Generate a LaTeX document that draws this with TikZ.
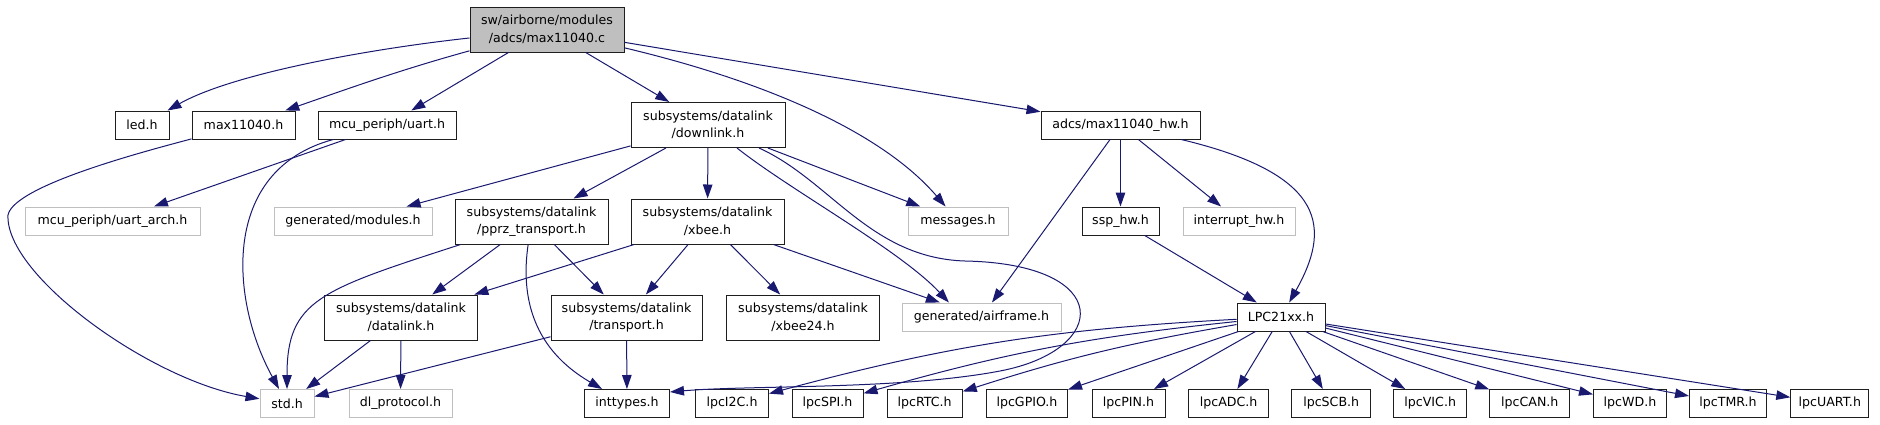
\documentclass[tikz,border=0pt]{standalone}
\usepackage{fontspec}
\setmainfont{DejaVu Sans}
\usetikzlibrary{arrows.meta}
\definecolor{dxblue}{RGB}{25,25,112}
\definecolor{dxgray}{RGB}{191,191,191}
\definecolor{dxline}{RGB}{30,30,30}

\begin{document}
\begin{tikzpicture}[x=1pt,y=-1pt,font=\fontsize{12.6}{17.5}\selectfont,
box/.style={draw=dxline,line width=1pt,fill=white,align=center,inner sep=0pt,minimum height=28pt},
two/.style={box,minimum height=45pt},
ext/.style={box,draw=dxgray},
arr/.style={-{Triangle[length=14pt,width=9.5pt]},line width=1pt,draw=dxblue}]
\fill[white](0,0)rectangle(1880,424);
\useasboundingbox(0,0)rectangle(1880,424);

\node[two,fill=dxgray,minimum width=154pt](root)at(547,29.5){sw/airborne/modules\\/adcs/max11040.c};
\node[box,minimum width=54pt](led)at(142,125){led.h};
\node[box,minimum width=103pt](max11040h)at(243.5,125){max11040.h};
\node[box,minimum width=138pt](uart)at(387,125){mcu\_periph/uart.h};
\node[two,minimum width=154pt](downlink)at(708,125){subsystems/datalink\\/downlink.h};
\node[box,minimum width=159pt](hw)at(1120.5,125){adcs/max11040\_hw.h};
\node[ext,minimum width=175pt](arch)at(112.5,221){mcu\_periph/uart\_arch.h};
\node[ext,minimum width=158pt](modules)at(353,221){generated/modules.h};
\node[two,minimum width=153pt](pprz)at(531.5,221.5){subsystems/datalink\\/pprz\_transport.h};
\node[two,minimum width=153pt](xbee)at(707.5,221.5){subsystems/datalink\\/xbee.h};
\node[ext,minimum width=100pt](messages)at(958,221){messages.h};
\node[box,minimum width=77pt](ssp)at(1120.5,221){ssp\_hw.h};
\node[ext,minimum width=112pt](interrupt)at(1239,221){interrupt\_hw.h};
\node[two,minimum width=153pt](datalink)at(401,317.5){subsystems/datalink\\/datalink.h};
\node[two,minimum width=151pt](transport)at(626.5,317.5){subsystems/datalink\\/transport.h};
\node[two,minimum width=153pt](xbee24)at(803,317.5){subsystems/datalink\\/xbee24.h};
\node[ext,minimum width=159pt](airframe)at(981.5,317){generated/airframe.h};
\node[box,minimum width=88pt](lpc)at(1281,317){LPC21xx.h};
\node[ext,minimum width=54pt](std)at(287,403.5){std.h};
\node[ext,minimum width=103pt](dlprot)at(400.5,403.5){dl\_protocol.h};
\node[box,minimum width=85pt](inttypes)at(627,403.5){inttypes.h};
\node[box,minimum width=73pt](i2c)at(732,403.5){lpcI2C.h};
\node[box,minimum width=71pt](spi)at(827.5,403.5){lpcSPI.h};
\node[box,minimum width=75pt](rtc)at(924.7,403.5){lpcRTC.h};
\node[box,minimum width=81pt](gpio)at(1027,403.5){lpcGPIO.h};
\node[box,minimum width=73pt](pin)at(1128.5,403.5){lpcPIN.h};
\node[box,minimum width=80pt](adc)at(1228.6,403.5){lpcADC.h};
\node[box,minimum width=79pt](scb)at(1331.2,403.5){lpcSCB.h};
\node[box,minimum width=73pt](vic)at(1430.2,403.5){lpcVIC.h};
\node[box,minimum width=80pt](can)at(1529.8,403.5){lpcCAN.h};
\node[box,minimum width=73pt](wd)at(1630,403.5){lpcWD.h};
\node[box,minimum width=77pt](tmr)at(1728,403.5){lpcTMR.h};
\node[box,minimum width=78pt](lpcuart)at(1829.8,403.5){lpcUART.h};

% first level
\draw[arr](root)..controls(360,50)and(230,75)..(led);
\draw[arr](root)..controls(400,70)and(350,88)..(max11040h);
\draw[arr](root)--(uart);\draw[arr](root)--(downlink);\draw[arr](root)--(hw);
\draw[arr](root)..controls(760,80)and(880,130)..(messages);

\draw[arr](max11040h)..controls(150,150)and(14,185)..(8,215)..controls(5,275)and(150,380)..(std);
\draw[arr](uart)--(arch);
\draw[arr](uart)..controls(220,170)and(230,300)..(std);

% datalink headers
\draw[arr](downlink)--(modules);\draw[arr](downlink)--(pprz);\draw[arr](downlink)--(xbee);\draw[arr](downlink)--(messages);
\draw[arr](downlink)..controls(790,190)and(900,250)..(airframe.156);
\draw[arr](downlink)..controls(830,180)and(870,258)..(965,261)..controls(1115,264)and(1110,350)..(1000,371)..controls(900,390)and(750,385)..(inttypes.15);
\draw[arr](pprz)..controls(320,290)and(287,300)..(std);
\draw[arr](pprz)--(datalink);\draw[arr](pprz)--(transport);
\draw[arr](pprz)..controls(520,300)and(535,350)..(inttypes);
\draw[arr](xbee)--(datalink);\draw[arr](xbee)--(transport);\draw[arr](xbee)--(xbee24);\draw[arr](xbee)--(airframe);
\draw[arr](datalink)--(std);\draw[arr](datalink)--(dlprot);
\draw[arr](transport)--(std);\draw[arr](transport)--(inttypes);

% hardware side
\draw[arr](hw)--(airframe);\draw[arr](hw)--(ssp);\draw[arr](hw)--(interrupt);
\draw[arr](hw)..controls(1330,175)and(1330,230)..(lpc);
\draw[arr](ssp)--(lpc);
\draw[arr](lpc)to[bend right=6](i2c);\draw[arr](lpc)to[bend right=5](spi);\draw[arr](lpc)to[bend right=4](rtc);
\draw[arr](lpc)--(gpio);\draw[arr](lpc)--(pin);\draw[arr](lpc)--(adc);\draw[arr](lpc)--(scb);\draw[arr](lpc)--(vic);
\draw[arr](lpc)--(can);\draw[arr](lpc)--(wd);\draw[arr](lpc)--(tmr);\draw[arr](lpc)--(lpcuart);
\end{tikzpicture}
\end{document}
